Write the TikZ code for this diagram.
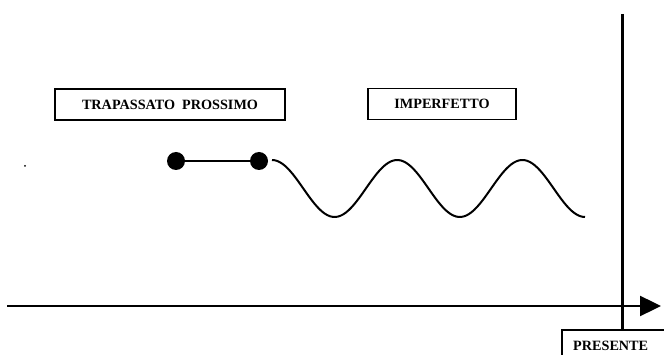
\documentclass[tikz,border=0pt]{standalone}
\usepackage{fontspec}
\setmainfont{Liberation Serif}
\usetikzlibrary{arrows.meta}
\begin{document}
\begin{tikzpicture}[x=1pt,y=-1pt,
  tlabel/.style={draw, line width=1.3pt, font=\bfseries\fontsize{14.2}{16}\selectfont, inner sep=0pt, minimum height=31pt},
  bigdot/.style={circle, fill, inner sep=0pt, minimum size=18pt},
  thick line/.style={line width=2pt}]
\useasboundingbox[fill=white] (0,0) rectangle (664,355);
% labels
\node[tlabel, minimum width=230pt] (tp) at (170,104.5) {TRAPASSATO\ \ PROSSIMO};
\node[tlabel, minimum width=148pt] (imp) at (442,104) {IMPERFETTO};
% small dot
\node[circle, fill, inner sep=0pt, minimum size=2pt] (sdot) at (25,166) {};
% segment with dots
\node[bigdot] (d1) at (176,161) {};
\node[bigdot] (d2) at (259,161) {};
\draw[thick line] (d1) -- (d2);
% wave
\coordinate (wstart) at (272,160);
\draw[thick line] (wstart) plot[domain=0:313, samples=120, smooth] ({272+\x}, {188.5-28.5*cos(\x/125.2*360)});
% present line
\coordinate (ptop) at (622,14);
\coordinate (pbot) at (622,330);
\draw[line width=3pt] (ptop) -- (pbot);
% time axis
\coordinate (ax0) at (7,306);
\coordinate (ax1) at (661,306);
\draw[line width=2.4pt, -{Triangle[length=21pt,width=20pt]}] (ax0) -- (ax1);
% PRESENTE box
\draw[line width=1.3pt] (562,370) |- (690,330);
\node[font=\bfseries\fontsize{14.2}{16}\selectfont, anchor=base west, inner sep=0pt] (pres) at (573,350) {PRESENTE};
\end{tikzpicture}
\end{document}
